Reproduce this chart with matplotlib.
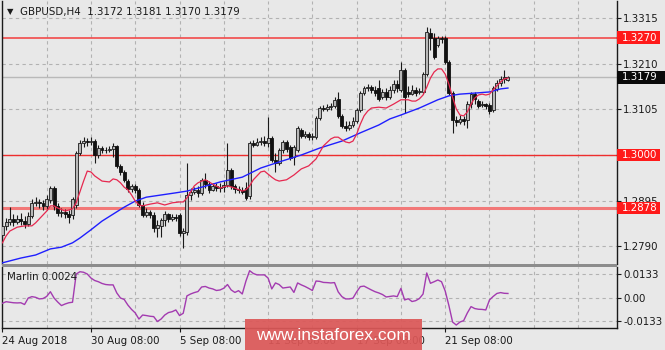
import numpy as np
import matplotlib
matplotlib.use('Agg')
import matplotlib.pyplot as plt
from matplotlib.patches import Rectangle
from matplotlib.transforms import blended_transform_factory

plt.rcParams['font.family'] = ['DejaVu Sans']

# GBPUSD H4 candles
opens = [
    1.2816, 1.2837, 1.2846, 1.2853, 1.2846, 1.2853, 1.2848, 1.2841, 1.2860, 1.2890,
    1.2892, 1.2890, 1.2883, 1.2897, 1.2924, 1.2883, 1.2867, 1.2869, 1.2864, 1.2862,
    1.2885, 1.3005, 1.3028, 1.3032, 1.3030, 1.3032, 1.3000, 1.3016, 1.3012, 1.3011,
    1.3014, 1.3021, 1.2975, 1.2961, 1.2940, 1.2922, 1.2929, 1.2920, 1.2885, 1.2862,
    1.2869, 1.2862, 1.2832, 1.2837, 1.2851, 1.2864, 1.2853, 1.2857, 1.2862, 1.2821,
    1.2823, 1.2908, 1.2915, 1.2920, 1.2913, 1.2943, 1.2933, 1.2920, 1.2929, 1.2924,
    1.2926, 1.2931, 1.2966, 1.2929, 1.2922, 1.2920, 1.2924, 1.2906, 1.3028, 1.3023,
    1.3030, 1.3032, 1.3028, 1.3039, 1.2989, 1.2982, 1.3012, 1.3030, 1.3018, 1.2995,
    1.3012, 1.3058, 1.3044, 1.3048, 1.3041, 1.3041, 1.3085, 1.3108, 1.3106, 1.3110,
    1.3113, 1.3129, 1.3090, 1.3067, 1.3062, 1.3069, 1.3078, 1.3104, 1.3143, 1.3154,
    1.3156, 1.3150, 1.3154, 1.3133, 1.3145, 1.3133, 1.3150, 1.3163, 1.3150, 1.3196,
    1.3145, 1.3140, 1.3150, 1.3145, 1.3145, 1.3186, 1.3281, 1.3269, 1.3253, 1.3269,
    1.3269, 1.3214, 1.3143, 1.3081, 1.3076, 1.3083, 1.3081, 1.3117, 1.3140, 1.3124,
    1.3115, 1.3117, 1.3115, 1.3104, 1.3152, 1.3166, 1.3175, 1.3172]
highs = [
    1.2846, 1.2855, 1.2880, 1.2864, 1.2862, 1.2867, 1.2860, 1.2869, 1.2899, 1.2903,
    1.2899, 1.2897, 1.2908, 1.2929, 1.2929, 1.2890, 1.2878, 1.2876, 1.2874, 1.2903,
    1.3009, 1.3035, 1.3041, 1.3039, 1.3041, 1.3037, 1.3023, 1.3021, 1.3018, 1.3021,
    1.3028, 1.3023, 1.2979, 1.2966, 1.2945, 1.2933, 1.2933, 1.2924, 1.2892, 1.2878,
    1.2874, 1.2869, 1.2851, 1.2855, 1.2871, 1.2867, 1.2864, 1.2864, 1.2867, 1.2832,
    1.2982, 1.2924, 1.2926, 1.2929, 1.2947, 1.2959, 1.2940, 1.2936, 1.2936, 1.2936,
    1.2940, 1.3028, 1.2970, 1.2933, 1.2929, 1.2926, 1.2938, 1.3032, 1.3035, 1.3039,
    1.3041, 1.3044, 1.3087, 1.3044, 1.3005, 1.3016, 1.3035, 1.3035, 1.3023, 1.3023,
    1.3067, 1.3062, 1.3055, 1.3053, 1.3051, 1.3090, 1.3113, 1.3115, 1.3117, 1.3120,
    1.3133, 1.3145, 1.3094, 1.3078, 1.3078, 1.3087, 1.3108, 1.3147, 1.3159, 1.3163,
    1.3161, 1.3159, 1.3173, 1.3152, 1.3154, 1.3159, 1.3173, 1.3173, 1.3214, 1.3200,
    1.3159, 1.3161, 1.3156, 1.3154, 1.3191, 1.3294, 1.3292, 1.3281, 1.3274, 1.3274,
    1.3274, 1.3219, 1.3147, 1.3090, 1.3092, 1.3090, 1.3124, 1.3145, 1.3145, 1.3129,
    1.3124, 1.3120, 1.3120, 1.3159, 1.3173, 1.3182, 1.3196, 1.3181]
lows = [
    1.2805, 1.2828, 1.2839, 1.2837, 1.2841, 1.2839, 1.2832, 1.2837, 1.2855, 1.2883,
    1.2878, 1.2874, 1.2874, 1.2890, 1.2874, 1.2860, 1.2857, 1.2855, 1.2844, 1.2853,
    1.2878, 1.3000, 1.3018, 1.3021, 1.3023, 1.2982, 1.2993, 1.3005, 1.3005, 1.3007,
    1.2995, 1.2970, 1.2954, 1.2938, 1.2915, 1.2915, 1.2913, 1.2880, 1.2857, 1.2857,
    1.2855, 1.2823, 1.2811, 1.2811, 1.2837, 1.2846, 1.2848, 1.2848, 1.2814, 1.2786,
    1.2816, 1.2897, 1.2910, 1.2903, 1.2908, 1.2924, 1.2913, 1.2917, 1.2917, 1.2915,
    1.2915, 1.2926, 1.2922, 1.2913, 1.2913, 1.2910, 1.2897, 1.2899, 1.3018, 1.3021,
    1.3023, 1.3021, 1.3018, 1.2984, 1.2961, 1.2977, 1.3005, 1.3007, 1.2989, 1.2977,
    1.3007, 1.3039, 1.3039, 1.3035, 1.3035, 1.3037, 1.3081, 1.3101, 1.3101, 1.3104,
    1.3108, 1.3085, 1.3062, 1.3055, 1.3058, 1.3064, 1.3074, 1.3099, 1.3138, 1.3147,
    1.3143, 1.3136, 1.3124, 1.3129, 1.3127, 1.3129, 1.3143, 1.3145, 1.3145, 1.3097,
    1.3133, 1.3138, 1.3136, 1.3140, 1.3140, 1.3182, 1.3242, 1.3221, 1.3248, 1.3258,
    1.3209, 1.3138, 1.3051, 1.3067, 1.3071, 1.3069, 1.3062, 1.3108, 1.3117, 1.3108,
    1.3110, 1.3106, 1.3094, 1.3099, 1.3147, 1.3159, 1.3166, 1.3170]
closes = [
    1.2837, 1.2846, 1.2853, 1.2846, 1.2853, 1.2848, 1.2841, 1.2860, 1.2890, 1.2892,
    1.2890, 1.2883, 1.2899, 1.2924, 1.2883, 1.2867, 1.2869, 1.2864, 1.2857, 1.2899,
    1.3005, 1.3028, 1.3032, 1.3030, 1.3032, 1.3000, 1.3016, 1.3012, 1.3011, 1.3014,
    1.3021, 1.2975, 1.2961, 1.2943, 1.2922, 1.2929, 1.2920, 1.2885, 1.2862, 1.2869,
    1.2862, 1.2832, 1.2839, 1.2851, 1.2864, 1.2853, 1.2857, 1.2855, 1.2821, 1.2825,
    1.2908, 1.2915, 1.2920, 1.2913, 1.2943, 1.2933, 1.2920, 1.2929, 1.2924, 1.2926,
    1.2931, 1.2966, 1.2929, 1.2922, 1.2920, 1.2915, 1.2901, 1.3028, 1.3023, 1.3030,
    1.3032, 1.3028, 1.3039, 1.2989, 1.2982, 1.3012, 1.3030, 1.3014, 1.2993, 1.3018,
    1.3062, 1.3044, 1.3048, 1.3041, 1.3044, 1.3085, 1.3108, 1.3106, 1.3110, 1.3113,
    1.3127, 1.3090, 1.3067, 1.3062, 1.3069, 1.3078, 1.3104, 1.3143, 1.3154, 1.3156,
    1.3150, 1.3143, 1.3129, 1.3145, 1.3133, 1.3150, 1.3163, 1.3154, 1.3196, 1.3133,
    1.3140, 1.3150, 1.3143, 1.3147, 1.3186, 1.3283, 1.3269, 1.3225, 1.3269, 1.3267,
    1.3214, 1.3143, 1.3081, 1.3076, 1.3083, 1.3078, 1.3117, 1.3140, 1.3129, 1.3113,
    1.3117, 1.3113, 1.3101, 1.3154, 1.3166, 1.3175, 1.3179, 1.3179]

# fast (red) and slow (blue) moving averages, read at selected bars
red_bars = [0, 1, 2, 4, 6, 8, 9, 10, 12, 13, 14, 15, 17, 19, 20, 21, 22, 23, 24, 25,
            27, 29, 30, 31, 32, 33, 34, 35, 36, 37, 38, 40, 42, 44, 46, 48, 49, 50, 51, 52,
            53, 54, 55, 56, 57, 59, 61, 63, 65, 66, 67, 68, 69, 70, 71, 72, 73, 74, 75, 77,
            79, 81, 83, 85, 87, 89, 90, 91, 92, 93, 94, 95, 96, 97, 98, 99, 100, 102, 104, 106,
            108, 110, 111, 112, 113, 114, 115, 116, 117, 118, 119, 120, 121, 122, 123, 124,
            125, 126, 127, 128, 129, 130, 131, 132, 133, 134, 135, 136, 137]
red_ma = [1.2798, 1.2814, 1.2825, 1.2834, 1.2837, 1.2837, 1.2844, 1.2853, 1.2871, 1.2883,
          1.2883, 1.2878, 1.2871, 1.2876, 1.2890, 1.2915, 1.2940, 1.2963, 1.2961, 1.2952,
          1.2940, 1.2938, 1.2945, 1.2943, 1.2936, 1.2926, 1.2920, 1.2908, 1.2894, 1.2885,
          1.2883, 1.2887, 1.2890, 1.2885, 1.2890, 1.2892, 1.2892, 1.2901, 1.2915, 1.2929,
          1.2936, 1.2940, 1.2943, 1.2938, 1.2933, 1.2924, 1.2929, 1.2924, 1.2917, 1.2920,
          1.2929, 1.2943, 1.2952, 1.2961, 1.2963, 1.2956, 1.2949, 1.2943, 1.2940, 1.2943,
          1.2954, 1.2968, 1.2975, 1.2991, 1.3021, 1.3037, 1.3041, 1.3041, 1.3035, 1.3030,
          1.3028, 1.3032, 1.3048, 1.3071, 1.3090, 1.3101, 1.3108, 1.3110, 1.3108, 1.3117,
          1.3127, 1.3127, 1.3124, 1.3124, 1.3129, 1.3138, 1.3156, 1.3177, 1.3191, 1.3198,
          1.3198, 1.3186, 1.3163, 1.3133, 1.3106, 1.3092, 1.3090, 1.3099, 1.3117, 1.3131,
          1.3138, 1.3140, 1.3138, 1.3140, 1.3150, 1.3159, 1.3168, 1.3175, 1.3177]
blue_bars = [0, 5, 9, 13, 16, 19, 21, 24, 27, 30, 33, 36, 39, 43, 47, 50, 54, 57, 59, 65,
             70, 75, 81, 86, 92, 97, 102, 105, 108, 113, 118, 121, 124, 129, 132, 135, 137]
blue_ma = [1.2752, 1.2763, 1.2770, 1.2784, 1.2788, 1.2798, 1.2809, 1.2828, 1.2848, 1.2864,
           1.2880, 1.2894, 1.2903, 1.2908, 1.2913, 1.2917, 1.2926, 1.2933, 1.2938, 1.2949,
           1.2970, 1.2984, 1.3000, 1.3016, 1.3032, 1.3051, 1.3069, 1.3083, 1.3092, 1.3108,
           1.3127, 1.3136, 1.3140, 1.3143, 1.3145, 1.3152, 1.3154]

# Marlin oscillator, one value per bar
marlin = [
    -0.0032, -0.0023, -0.0026, -0.0029, -0.0030, -0.0029, -0.0039, -0.0002, 0.0006, 0.0002,
    -0.0007, -0.0005, 0.0007, 0.0034, -0.0002, -0.0025, -0.0045, -0.0036, -0.0029, -0.0026,
    0.0135, 0.0148, 0.0145, 0.0135, 0.0112, 0.0098, 0.0091, 0.0081, 0.0075, 0.0073,
    0.0073, 0.0027, -0.0002, -0.0010, -0.0042, -0.0067, -0.0087, -0.0122, -0.0099, -0.0102,
    -0.0106, -0.0108, -0.0136, -0.0122, -0.0099, -0.0085, -0.0080, -0.0070, -0.0102, -0.0089,
    0.0010, 0.0021, 0.0029, 0.0035, 0.0061, 0.0064, 0.0055, 0.0050, 0.0041, 0.0044,
    0.0054, 0.0075, 0.0044, 0.0030, 0.0040, 0.0021, 0.0095, 0.0154, 0.0138, 0.0130,
    0.0130, 0.0130, 0.0112, 0.0050, 0.0084, 0.0075, 0.0055, 0.0058, 0.0061, 0.0030,
    0.0084, 0.0073, 0.0064, 0.0053, 0.0041, 0.0095, 0.0093, 0.0087, 0.0086, 0.0084,
    0.0086, 0.0033, 0.0006, -0.0007, -0.0007, -0.0003, 0.0033, 0.0063, 0.0066, 0.0055,
    0.0044, 0.0034, 0.0027, 0.0018, 0.0004, 0.0007, 0.0010, 0.0006, 0.0053, -0.0013,
    -0.0006, -0.0022, -0.0017, -0.0005, 0.0021, 0.0141, 0.0082, 0.0091, 0.0101, 0.0091,
    0.0038, -0.0045, -0.0139, -0.0156, -0.0139, -0.0131, -0.0087, -0.0051, -0.0062, -0.0066,
    -0.0067, -0.0070, -0.0013, 0.0007, 0.0024, 0.0029, 0.0025, 0.0024]

date_bars = [0, 24, 48, 72, 96, 120]
date_labels = ['24 Aug 2018', '30 Aug 08:00', '5 Sep 08:00', '11 Sep 08:00',
               '17 Sep 08:00', '21 Sep 08:00']
price_ticks = [1.2790, 1.2895, 1.3000, 1.3105, 1.3210, 1.3315]
levels = [1.3270, 1.3000, 1.2878]
marlin_ticks = [0.0133, 0.0, -0.0133]
marlin_tick_labels = ['0.0133', '0.00', '-0.0133']

BG = '#e8e8e8'
GRID = '#b2b2b2'
W, H = 665, 350


def box(x0, y0, x1, y1):
    # pixel rectangle (top-left origin) -> figure fraction
    return [x0 / W, 1 - y1 / H, (x1 - x0) / W, (y1 - y0) / H]


fig = plt.figure(figsize=(W / 100, H / 100), dpi=100, facecolor=BG)
ax = fig.add_axes(box(2, 1, 617, 264), facecolor=BG)
ax2 = fig.add_axes(box(2, 267, 617, 328), facecolor=BG)

xmin = -0.11
xmax = xmin + 615 / 3.69
for a in (ax, ax2):
    a.set_xlim(xmin, xmax)
    for k in range(12, 167, 12):
        a.axvline(k, color=GRID, lw=0.8, ls=(0, (3, 3)), zorder=0.5)
ax.set_ylim(1.27493, 1.33542)
ax2.set_ylim(-0.0173, 0.0175)

# candles
o, h, l, c = map(np.array, (opens, highs, lows, closes))
idx = np.arange(len(c))
up = c >= o
bottom = np.minimum(o, c)
height = np.maximum(np.abs(c - o), 0.00007)
ax.vlines(idx, l, h, color='#1a1a1a', lw=0.8, zorder=2.5)
ax.bar(idx[up], height[up], bottom=bottom[up], width=0.78, color='#b8b8b8',
       edgecolor='#1a1a1a', lw=0.6, zorder=3)
ax.bar(idx[~up], height[~up], bottom=bottom[~up], width=0.78, color='#111111',
       edgecolor='#111111', lw=0.6, zorder=3)

ax.plot(blue_bars, blue_ma, color='#1f1fff', lw=1.0, zorder=4)
ax.plot(red_bars, red_ma, color='#e6284f', lw=0.9, zorder=4)

# grid, support/resistance levels and current price line
for p in price_ticks:
    ax.axhline(p, color=GRID, lw=0.8, ls=(0, (3, 3)), zorder=0.5)
ax.axhline(closes[-1], color='#b9b9b9', lw=1.0, zorder=1)
ax.axhline(levels[0], color='#f24a4a', lw=1.2, zorder=1.8)
ax.axhline(levels[1], color='#ee2e2e', lw=1.0, zorder=1.8)
ax.axhline(levels[2], color='#f27878', lw=2.2, zorder=1.8)

ax.yaxis.tick_right()
ax.set_yticks(price_ticks)
ax.set_yticklabels(['%.4f' % p for p in price_ticks])
ax.tick_params(axis='y', length=3, width=0.8, pad=1.5, labelsize=7.4,
               colors='#1a1a1a')
ax.set_xticks([])

# coloured price tags on the right scale
tr = blended_transform_factory(ax.transAxes, ax.transData)
tag_h = 12.7 * (1.33542 - 1.27493) / 263
for p, col, wpx in [(levels[0], '#ff1a1a', 43), (levels[1], '#ff1a1a', 43),
                    (levels[2], '#ff1a1a', 43), (closes[-1], '#0a0a0a', 48)]:
    ax.add_patch(Rectangle((1.0, p - tag_h / 2), wpx / 615, tag_h, transform=tr,
                           facecolor=col, edgecolor='none', clip_on=False, zorder=10))
    ax.text(1.0 + 5 / 615, p, '%.4f' % p, transform=tr, color='white',
            fontsize=7.4, va='center', ha='left', clip_on=False, zorder=11)

for side in ('top', 'bottom'):
    ax.spines[side].set_visible(False)
for side in ('left', 'right'):
    ax.spines[side].set_color('#1a1a1a')
    ax.spines[side].set_linewidth(1.0)

# Marlin panel
ax2.plot(idx, marlin, color='#a33bb0', lw=1.0, zorder=3)
for v in marlin_ticks:
    ax2.axhline(v, color=GRID, lw=0.8, ls=(0, (3, 3)), zorder=0.5)
ax2.yaxis.tick_right()
ax2.set_yticks(marlin_ticks)
ax2.set_yticklabels(marlin_tick_labels)
ax2.tick_params(axis='y', length=3, width=0.8, pad=1.5, labelsize=7.4,
                colors='#1a1a1a')
ax2.set_xticks(date_bars)
ax2.set_xticklabels(date_labels, ha='left')
ax2.tick_params(axis='x', length=3, width=0.8, pad=2.5, labelsize=7.4,
                colors='#1a1a1a')
ax2.spines['top'].set_visible(False)
for side in ('left', 'right', 'bottom'):
    ax2.spines[side].set_color('#1a1a1a')
    ax2.spines[side].set_linewidth(1.0)

# separator between the two panels
fig.patches.append(Rectangle((2 / W, 1 - 267 / H), 615 / W, 3 / H,
                             transform=fig.transFigure, facecolor='#8c8c8c',
                             edgecolor='none', zorder=5))

fig.text(7 / W, 1 - 12 / H, '\u25bc', fontsize=6, color='#1a1a1a', va='center')
fig.text(20 / W, 1 - 12 / H, 'GBPUSD,H4  1.3172 1.3181 1.3170 1.3179',
         fontsize=7.4, color='#1a1a1a', va='center')
fig.text(7 / W, 1 - 277 / H, 'Marlin 0.0024', fontsize=7.4, color='#1a1a1a',
         va='center')

# watermark
fig.patches.append(Rectangle((245 / W, 0), 177 / W, 31 / H, transform=fig.transFigure,
                             facecolor='#dc5858', edgecolor='none', alpha=0.93,
                             zorder=20))
fig.text(333 / W, 1 - 340 / H, 'www.instaforex.com', family=['Liberation Sans'],
         fontsize=12.5, color='white', ha='center', va='baseline', zorder=21)

fig.savefig('out.png', dpi=100, facecolor=BG)
